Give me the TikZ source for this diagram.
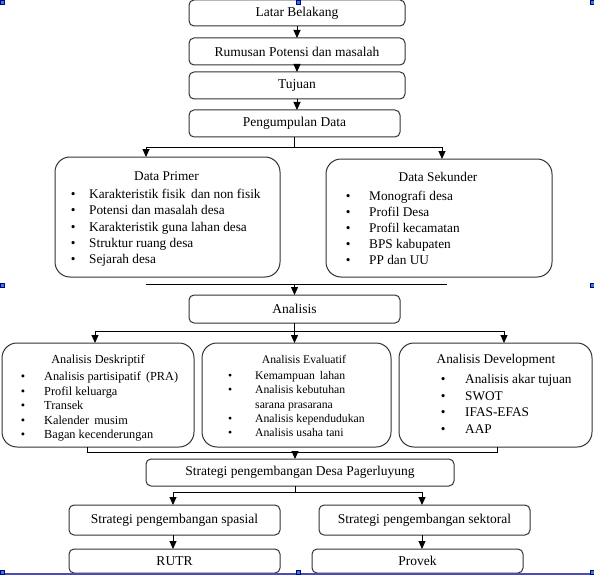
\documentclass[tikz,border=0pt]{standalone}
\usepackage{fontspec}
\setmainfont{Liberation Serif}
\usetikzlibrary{arrows.meta}

\newcommand{\fsz}[2]{\fontsize{#1}{#2}\selectfont}

\begin{document}
\begin{tikzpicture}[x=1pt, y=-1pt, >={Triangle[width=7pt,length=8pt]},
    box/.style={draw=black!80, line width=1pt, rounded corners=5pt, inner sep=0pt, outer sep=0pt, font=\fsz{13.5}{16}},
    bigbox/.style={draw=black!80, line width=1pt, rounded corners=15pt, inner sep=0pt, outer sep=0pt},
    title/.style={anchor=base, inner sep=0pt},
    list/.style={anchor=base west, inner sep=0pt, align=left},
    line/.style={line width=1pt},
    handle/.style={fill=blue!45!cyan!70!black!80, draw=blue!60!black, line width=0.4pt}]

    \useasboundingbox (0,0) rectangle (594,575);

    % main steps
    \node[box, minimum width=216, minimum height=26] (lb) at (297,13) {Latar Belakang};
    \node[box, minimum width=216, minimum height=27] (rm) at (297,51.5) {Rumusan Potensi dan masalah};
    \node[box, minimum width=216, minimum height=27] (tj) at (297,85.5) {Tujuan};
    \node[box, minimum width=211, minimum height=27] (pd) at (294.5,123.5) {Pengumpulan Data};

    % data boxes
    \node[bigbox, minimum width=225, minimum height=120] (dp) at (167.5,217) {};
    \node[bigbox, minimum width=226, minimum height=118] (ds) at (439,218) {};
    \node[title, font=\fsz{13.3}{16}] (dpt) at (166.5,180.5) {Data Primer};
    \node[list, font=\fsz{13.3}{16.3}] (dpl) at (70.7,198.5) {\begin{tabular}[t]{@{}p{18.3pt}@{}l@{}}
        \textbullet & Karakteristik fisik\, dan non fisik\\
        \textbullet & Potensi dan masalah desa\\
        \textbullet & Karakteristik guna lahan desa\\
        \textbullet & Struktur ruang desa\\
        \textbullet & Sejarah desa
      \end{tabular}};
    \node[title, font=\fsz{13.3}{16}] (dst) at (438,181.5) {Data Sekunder};
    \node[list, font=\fsz{13.3}{16}] (dsl) at (345.7,200.5) {\begin{tabular}[t]{@{}p{23.3pt}@{}l@{}}
        \textbullet & Monografi desa\\
        \textbullet & Profil Desa\\
        \textbullet & Profil kecamatan\\
        \textbullet & BPS kabupaten\\
        \textbullet & PP dan UU
      \end{tabular}};

    \node[box, minimum width=211, minimum height=28] (an) at (294.5,309) {Analisis};

    % analysis boxes
    \node[bigbox, minimum width=192, minimum height=104] (ad) at (98,395) {};
    \node[bigbox, minimum width=189, minimum height=104] (ae) at (296.5,395) {};
    \node[bigbox, minimum width=193, minimum height=104] (av) at (495.5,395) {};
    \node[title, font=\fsz{12.3}{14.6}] (adt) at (98,363.5) {Analisis Deskriptif};
    \node[list, font=\fsz{12.3}{14.6}] (adl) at (20.7,380.5) {\begin{tabular}[t]{@{}p{23.3pt}@{}l@{}}
        \textbullet & Analisis partisipatif\, (PRA)\\
        \textbullet & Profil keluarga\\
        \textbullet & Transek\\
        \textbullet & Kalender\, musim\\
        \textbullet & Bagan kecenderungan
      \end{tabular}};
    \node[title, font=\fsz{11.7}{14.3}] (aet) at (304,363) {Analisis Evaluatif};
    \node[list, font=\fsz{11.7}{14.3}] (ael) at (228,379.5) {\begin{tabular}[t]{@{}p{27pt}@{}l@{}}
        \textbullet & Kemampuan\, lahan\\
        \textbullet & Analisis kebutuhan\\
                    & sarana prasarana\\
        \textbullet & Analisis kependudukan\\
        \textbullet & Analisis usaha tani
      \end{tabular}};
    \node[title, font=\fsz{13.3}{16.5}] (avt) at (496,363.5) {Analisis Development};
    \node[list, font=\fsz{13.3}{16.5}] (avl) at (440.7,383.5) {\begin{tabular}[t]{@{}p{24.3pt}@{}l@{}}
        \textbullet & Analisis akar tujuan\\
        \textbullet & SWOT\\
        \textbullet & IFAS-EFAS\\
        \textbullet & AAP
      \end{tabular}};

    % strategies
    \node[box, minimum width=308, minimum height=27] (sd) at (300,472.5) {Strategi pengembangan Desa Pagerluyung};
    \node[box, minimum width=211, minimum height=30] (ss) at (174.5,520) {Strategi pengembangan spasial};
    \node[box, minimum width=211, minimum height=30] (sk) at (424.5,520) {Strategi pengembangan sektoral};
    \node[box, minimum width=211, minimum height=24] (rt) at (174.5,561) {RUTR};
    \node[box, minimum width=211, minimum height=24] (pv) at (417.5,561) {Provek};

    % joints
    \coordinate (j1) at (294.5,147);
    \coordinate (dpin) at (146,157);
    \coordinate (dsin) at (442,159);
    \coordinate (k1) at (146,284);
    \coordinate (k2) at (447,284);
    \coordinate (j2) at (294.5,331);
    \coordinate (adin) at (95,343);
    \coordinate (avin) at (504,343);
    \coordinate (adout) at (87,447);
    \coordinate (avout) at (497,447);
    \coordinate (sdin) at (295,459);
    \coordinate (j4) at (295,492);
    \coordinate (ssin) at (173,505);
    \coordinate (skin) at (422,505);

    \draw[->, line] (lb) -- (rm);
    \draw[->, line] (rm) -- (tj);
    \draw[->, line] (tj.south) -- (tj.south |- pd.north);

    \draw[line] (pd.south) -- (j1);
    \draw[->, line] (j1) -| (dpin);
    \draw[->, line] (j1) -| (dsin);

    \draw[line] (k1) -- (k2);
    \draw[->, line] (k1 -| an.north) -- (an.north);

    \draw[line] (an.south) -- (j2);
    \draw[->, line] (j2) -| (adin);
    \draw[->, line] (j2) -- (j2 |- ae.north);
    \draw[->, line] (j2) -| (avin);

    \draw[line] (adout) -- ++(0,5) -| (avout);
    \draw[->, line] (sdin |- 0,452) -- (sdin);

    \draw[line] (sdin |- sd.south) -- (j4);
    \draw[->, line] (j4) -| (ssin);
    \draw[->, line] (j4) -| (skin);
    \draw[->, line] (ssin |- ss.south) -- (ssin |- rt.north);
    \draw[->, line] (skin |- sk.south) -- (skin |- pv.north);

    % frame handles
    \draw[blue!60!black!70, line width=1.5pt] (0,574) -- (594,574);
    \foreach \hx/\hy in {0/0, 296/0, 590/0, 0/283, 590/283, 0/570, 296/570, 590/570}
      \path[handle] (\hx,\hy) rectangle ++(4,4);
\end{tikzpicture}
\end{document}
